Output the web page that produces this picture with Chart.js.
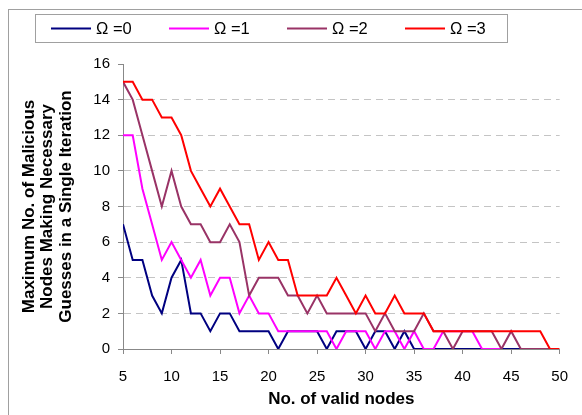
<!DOCTYPE html>
<html>
<head>
<meta charset="utf-8">
<script src="https://cdn.jsdelivr.net/npm/chart.js@4.4.0/dist/chart.umd.min.js"></script>
<style>
  html, body { margin: 0; padding: 0; background: #fff; }
  #wrap { position: relative; width: 582px; height: 415px; overflow: hidden; }
  #frame { position: absolute; left: 8px; top: 9px; width: 600px; height: 420px;
           border-left: 1px solid #a0a0a0; border-top: 1px solid #a0a0a0; }
  #chartOmega { position: absolute; left: 0; top: 0; }
</style>
</head>
<body>
<div id="wrap">
  <div id="frame"></div>
  <canvas id="chartOmega" width="582" height="415"></canvas>
</div>
<script>
// number of valid nodes on the x axis
const validNodes = [5, 6, 7, 8, 9, 10, 11, 12, 13, 14, 15, 16, 17, 18, 19, 20, 21, 22, 23, 24,
  25, 26, 27, 28, 29, 30, 31, 32, 33, 34, 35, 36, 37, 38, 39, 40, 41, 42, 43, 44,
  45, 46, 47, 48, 49, 50];

// max no. of malicious nodes per omega
const omega0 = [7, 5, 5, 3, 2, 4, 5, 2, 2, 1, 2, 2, 1, 1, 1, 1, 0, 1, 1, 1,
  1, 0, 1, 1, 1, 0, 1, 1, 0, 1, 0, 0, 0, 0, 0, 0, 0, 0, 0, 0, 0, 0];
const omega1 = [12, 12, 9, 7, 5, 6, 5, 4, 5, 3, 4, 4, 2, 3, 2, 2, 1, 1, 1, 1,
  1, 1, 0, 1, 1, 1, 0, 1, 1, 0, 1, 0, 0, 1, 1, 1, 1, 0, 0, 0];
const omega2 = [15, 14, 12, 10, 8, 10, 8, 7, 7, 6, 6, 7, 6, 3, 4, 4, 4, 3, 3, 2,
  3, 2, 2, 2, 2, 2, 1, 2, 1, 1, 1, 2, 1, 1, 0, 1, 1, 1, 1, 0, 1, 0, 0, 0, 0];
const omega3 = [15, 15, 14, 14, 13, 13, 12, 10, 9, 8, 9, 8, 7, 7, 5, 6, 5, 5, 3, 3,
  3, 3, 4, 3, 2, 3, 2, 2, 3, 2, 2, 2, 1, 1, 1, 1, 1, 1, 1, 1, 1, 1, 1, 1, 0, 0];

const seriesLabels = ["\u03A9 =0", "\u03A9 =1", "\u03A9 =2", "\u03A9 =3"];
const yTicks = [0, 2, 4, 6, 8, 10, 12, 14, 16];

const toPoints = (values) => values.map((v, i) => ({ x: validNodes[i], y: v }));

Chart.defaults.font.family = "'Liberation Sans', Arial, sans-serif";
Chart.defaults.color = "#000";

// legend drawn in a framed box like the original
const boxLegend = {
  id: "boxLegend",
  afterDraw(chart) {
    const ctx = chart.ctx;
    ctx.save();
    ctx.strokeStyle = "#a0a0a0";
    ctx.lineWidth = 1;
    ctx.strokeRect(35.5, 14.5, 472, 28);
    ctx.font = "16.5px 'Liberation Sans', Arial, sans-serif";
    ctx.textBaseline = "middle";
    chart.data.datasets.forEach((ds, i) => {
      const x = 51 + i * 118;
      ctx.strokeStyle = ds.borderColor;
      ctx.lineWidth = 2;
      ctx.beginPath();
      ctx.moveTo(x, 28.5);
      ctx.lineTo(x + 40, 28.5);
      ctx.stroke();
      ctx.fillStyle = "#000";
      ctx.fillText(ds.label, x + 45, 29);
    });
    ctx.restore();
  },
};

const runChartOmega = () => {
  const ctx = document.getElementById("chartOmega").getContext("2d");
  const myChart = new Chart(ctx, {
    type: "line",
    data: {
      datasets: [
        { label: seriesLabels[0], data: toPoints(omega0), borderColor: "#000080", order: 4 },
        { label: seriesLabels[1], data: toPoints(omega1), borderColor: "#ff00ff", order: 3 },
        { label: seriesLabels[2], data: toPoints(omega2), borderColor: "#993366", order: 2 },
        { label: seriesLabels[3], data: toPoints(omega3), borderColor: "#ff0000", order: 1 },
      ],
    },
    options: {
      responsive: false,
      animation: false,
      layout: { padding: { top: 64, right: 11, bottom: 0, left: 0 } },
      elements: {
        line: { borderWidth: 2, tension: 0, fill: false },
        point: { radius: 0 },
      },
      plugins: {
        legend: { display: false },
        tooltip: { enabled: false },
      },
      scales: {
        x: {
          type: "linear",
          min: 5,
          max: 50,
          afterFit: (scale) => { scale.height = 66; },
          ticks: { stepSize: 5, font: { size: 15 }, padding: 14, maxRotation: 0 },
          grid: { drawOnChartArea: false, tickLength: 5, tickColor: "#888" },
          border: { color: "#888" },
          title: {
            display: true,
            text: "No. of valid nodes",
            font: { size: 17, weight: "bold" },
            padding: { top: 0, bottom: 5 },
          },
        },
        y: {
          min: 0,
          max: 16,
          afterFit: (scale) => { scale.width = 123; },
          afterBuildTicks: (scale) => { scale.ticks = yTicks.map((v) => ({ value: v })); },
          ticks: { font: { size: 15 }, padding: 8 },
          grid: {
            color: (c) => (c.tick && (c.tick.value === 0 || c.tick.value === 16) ? "rgba(0,0,0,0)" : "#c4c4c4"),
            tickLength: 5,
            tickColor: "#888",
          },
          border: { color: "#888", dash: [7, 5] },
          title: {
            display: true,
            text: ["Maximum No. of Malicious", "Nodes Making Necessary", "Guesses in a Single Iteration"],
            font: { size: 17, weight: "bold", lineHeight: 1.08 },
            padding: { top: 20, bottom: 0 },
          },
        },
      },
    },
    plugins: [boxLegend],
  });
};

runChartOmega();
</script>
</body>
</html>
